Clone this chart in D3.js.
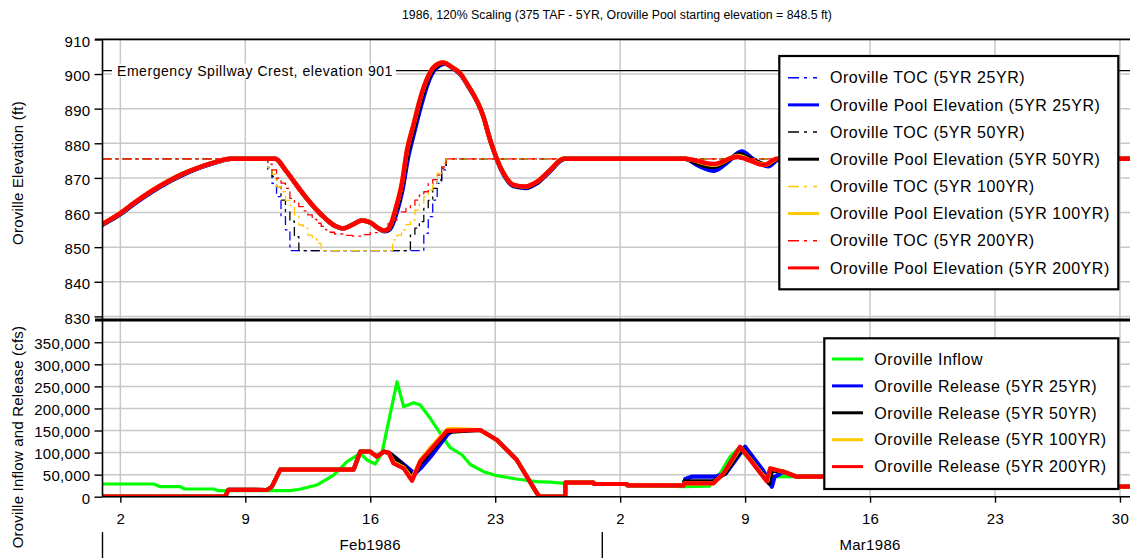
<!DOCTYPE html>
<html><head><meta charset="utf-8">
<script src="https://cdn.jsdelivr.net/npm/d3@7"></script>
<style>
body{margin:0;background:#fff;}
svg{display:block;font-family:"Liberation Sans",Arial,sans-serif;}
</style></head><body>
<svg id="chart" width="1130" height="558"></svg>
<script>
// ---------- text ----------
const titleText = "1986, 120% Scaling (375 TAF - 5YR, Oroville Pool starting elevation = 848.5 ft)";
const elevAxisTitle = "Oroville Elevation (ft)";
const flowAxisTitle = "Oroville Inflow and Release (cfs)";
const spillwayLabel = "Emergency Spillway Crest, elevation 901";
const spillwayElev = 901;
const elevTicks = [830, 840, 850, 860, 870, 880, 890, 900, 910];
const flowTicks = [0, 50000, 100000, 150000, 200000, 250000, 300000, 350000];
const monthNames = ["Feb1986", "Mar1986"];
const monthStarts = ["1986-02-01", "1986-03-01"];
const monthMids = ["1986-02-16", "1986-03-16"];

// ---------- data: [days since 1 Feb 1986, value] ----------
const toc25 = [[0,875.5],[9.25,872.3],[9.5,868.4],[9.75,864.6],[10.0,858.8],[10.25,855.0],[10.5,849.0],[18.0,854.0],[18.25,858.8],[18.5,863.6],[18.75,868.4],[19.0,872.3],[19.25,875.5],[57.6,875.5]];
const toc50 = [[0,875.5],[9.25,873.0],[9.5,870.4],[9.75,867.5],[10.0,863.6],[10.25,860.2],[10.5,857.5],[10.75,853.0],[11.0,849.0],[17.25,853.5],[17.5,855.5],[17.75,857.4],[18.0,861.2],[18.25,863.5],[18.5,867.0],[18.75,869.4],[19.0,872.8],[19.25,875.5],[57.6,875.5]];
const toc100 = [[0,875.5],[9.25,873.0],[9.5,871.0],[9.75,867.5],[10.0,866.0],[10.25,863.5],[10.5,862.0],[10.75,859.3],[11.0,856.4],[11.25,855.5],[11.5,853.5],[11.75,852.5],[12.0,851.1],[12.25,849.0],[16.25,852.1],[16.5,853.5],[16.75,855.0],[17.0,856.5],[17.25,857.8],[17.5,860.7],[17.75,862.5],[18.0,864.6],[18.25,866.5],[18.5,868.0],[18.75,871.3],[19.0,874.2],[19.25,875.5],[57.6,875.5]];
const toc200 = [[0,875.5],[9.25,874.0],[9.5,872.3],[9.75,869.9],[10.0,868.5],[10.25,867.0],[10.5,864.1],[10.75,863.0],[11.0,861.7],[11.25,860.5],[11.5,859.3],[11.75,858.0],[12.0,856.9],[12.25,856.0],[12.5,855.0],[12.75,854.3],[13.0,853.8],[13.5,853.4],[14.0,853.2],[14.5,853.6],[15.0,854.2],[15.5,855.0],[16.0,856.9],[16.25,857.8],[16.5,859.8],[16.75,860.2],[17.0,861.2],[17.25,862.0],[17.5,863.6],[17.75,865.0],[18.0,866.0],[18.25,868.4],[18.5,869.5],[18.75,870.8],[19.0,873.2],[19.25,875.5],[57.6,875.5]];

const pool25 = [[0,856.5],[1.0,859.5],[1.75,862.4],[2.68,865.7],[3.62,868.6],[4.55,871.0],[5.48,873.0],[6.42,874.6],[7.2,875.5],[9.68,875.5],[10.24,872.3],[10.8,868.4],[11.36,864.6],[11.92,861.2],[12.48,858.3],[13.04,856.1],[13.5,855.4],[13.97,856.4],[14.53,857.7],[15.0,857.1],[15.47,855.4],[15.8,854.6],[16.1,855.2],[16.45,859.5],[16.8,866.5],[17.1,875.5],[17.45,883.0],[17.85,891.0],[18.2,897.0],[18.6,901.2],[19.2,903.0],[19.6,901.8],[20.1,899.6],[20.45,896.8],[21.34,887.7],[21.72,880.9],[22.47,871.0],[23.03,867.6],[23.69,867.1],[24.34,868.5],[25.08,872.0],[25.9,875.5],[32.64,875.5],[33.4,873.5],[34.26,872.1],[35.0,874.5],[35.81,877.6],[36.47,875.3],[37.3,873.4],[37.87,875.3],[57.6,875.5]];
const pool50 = [[0,856.6],[1.0,859.7],[1.75,862.6],[2.68,865.9],[3.62,868.8],[4.55,871.2],[5.48,873.1],[6.42,874.7],[7.18,875.5],[9.68,875.5],[10.24,872.3],[10.8,868.4],[11.36,864.6],[11.92,861.2],[12.48,858.3],[13.04,856.1],[13.5,855.4],[13.97,856.4],[14.53,857.7],[15.0,857.1],[15.47,855.4],[15.77,854.7],[16.06,855.3],[16.42,860.2],[16.78,867.6],[17.08,877.0],[17.44,884.5],[17.82,892.2],[18.18,897.8],[18.57,901.6],[19.15,903.2],[19.55,902.0],[20.07,899.9],[20.43,897.0],[21.34,887.7],[21.72,880.9],[22.47,871.2],[23.03,867.8],[23.69,867.3],[24.34,868.7],[25.08,872.2],[25.86,875.5],[32.64,875.5],[33.4,874.0],[34.25,873.2],[35.0,875.0],[35.7,876.8],[36.4,875.2],[37.2,873.8],[37.82,875.4],[57.6,875.5]];
const pool100 = [[0,856.7],[1.0,859.8],[1.75,862.7],[2.68,866.0],[3.62,868.9],[4.55,871.3],[5.48,873.2],[6.42,874.7],[7.16,875.5],[9.68,875.5],[10.24,872.3],[10.8,868.4],[11.36,864.6],[11.92,861.2],[12.48,858.3],[13.04,856.1],[13.5,855.4],[13.97,856.4],[14.53,857.7],[15.0,857.1],[15.47,855.4],[15.75,854.8],[16.03,855.4],[16.4,860.7],[16.77,868.4],[17.06,878.0],[17.43,885.5],[17.8,893.0],[18.17,898.5],[18.55,902.0],[19.1,903.3],[19.5,902.2],[20.04,900.2],[20.41,897.3],[21.34,887.7],[21.72,880.9],[22.47,871.3],[23.03,868.0],[23.69,867.5],[24.34,868.9],[25.08,872.3],[25.83,875.5],[32.64,875.5],[34.23,873.8],[35.6,876.3],[36.3,875.0],[37.1,873.8],[37.8,875.5],[57.6,875.5]];
const pool200 = [[0,856.7],[1.0,859.8],[1.75,862.7],[2.68,866.0],[3.62,868.9],[4.55,871.3],[5.48,873.2],[6.42,874.7],[7.16,875.5],[9.68,875.5],[10.24,872.3],[10.8,868.4],[11.36,864.6],[11.92,861.2],[12.48,858.3],[13.04,856.1],[13.5,855.4],[13.97,856.4],[14.53,857.7],[15.0,857.1],[15.47,855.4],[15.75,854.8],[16.03,855.4],[16.4,860.7],[16.77,868.4],[17.06,878.0],[17.43,885.5],[17.8,893.0],[18.17,898.5],[18.55,902.0],[19.1,903.3],[19.5,902.2],[20.04,900.2],[20.41,897.3],[21.34,887.7],[21.72,880.9],[22.47,871.3],[23.03,868.0],[23.69,867.5],[24.34,868.9],[25.08,872.3],[25.83,875.5],[32.64,875.5],[34.23,874.0],[35.53,876.1],[36.28,875.0],[37.03,873.7],[37.78,875.5],[57.6,875.5]];

const inflow = [[0,28800],[2.86,28800],[3.24,22700],[4.36,22700],[4.6,17500],[6.23,17500],[6.5,13600],[10.5,13600],[11.06,16800],[12.0,26500],[12.95,49000],[13.7,79300],[14.44,98300],[14.82,83200],[15.28,74100],[15.65,98300],[16.5,260600],[16.87,204000],[17.43,213000],[17.8,207800],[18.36,177700],[18.92,143700],[19.48,111000],[20.15,94500],[20.6,73000],[21.35,56700],[22.1,47600],[23.2,40100],[24.3,34000],[25.08,33000],[25.83,30400],[27.5,30000],[29.4,27500],[32.5,22700],[34.0,24000],[34.6,53000],[35.16,90700],[35.63,109700],[36.2,87000],[36.7,60500],[37.2,40000],[37.8,46000],[40.4,45300],[45.0,32000],[56.9,22700],[57.6,22700]];
const rel25 = [[0,0],[6.88,0],[7.05,15500],[9.21,15200],[9.49,22700],[9.96,61500],[14.07,61500],[14.44,102000],[15.0,102000],[15.37,90700],[15.75,102000],[16.03,100000],[16.35,90000],[16.9,72000],[17.5,52000],[17.85,66000],[18.4,92000],[19.35,142000],[19.7,151200],[21.16,151200],[22.1,128500],[23.21,83200],[24.34,7700],[24.5,0],[25.92,0],[25.93,31700],[27.5,31700],[27.55,28800],[29.37,28800],[29.4,25800],[32.55,25800],[32.65,40000],[33.0,45300],[34.3,45300],[34.9,52000],[36.0,113300],[37.0,60000],[37.5,22700],[37.65,45000],[38.15,56700],[38.9,45300],[40.38,45300],[45.0,30000],[56.9,22700],[57.6,22700]];
const rel50 = [[0,0],[6.88,0],[7.05,15500],[9.21,15200],[9.49,22700],[9.96,61500],[14.07,61500],[14.44,102000],[15.0,102000],[15.37,90700],[15.75,102000],[16.03,100000],[16.3,91000],[16.87,70000],[17.4,45000],[17.8,75000],[18.36,102000],[19.3,147000],[21.16,151200],[22.1,128500],[23.21,83200],[24.34,7700],[24.5,0],[25.92,0],[25.93,31700],[27.5,31700],[27.55,28800],[29.37,28800],[29.4,25800],[32.55,25800],[32.6,35000],[34.25,35000],[34.85,52000],[35.85,110000],[37.35,30000],[37.5,60000],[38.15,56700],[38.9,45300],[40.38,45300],[45.0,30000],[56.9,22700],[57.6,22700]];
const rel100 = [[0,0],[6.88,0],[7.05,15500],[9.21,15200],[9.49,22700],[9.96,61500],[14.07,61500],[14.44,102000],[15.0,102000],[15.37,90700],[15.75,102000],[16.03,100000],[16.3,78000],[16.87,66000],[17.34,40000],[17.8,82000],[18.36,110000],[19.3,152000],[19.5,154000],[21.16,151200],[22.1,128500],[23.21,83200],[24.34,7700],[24.5,0],[25.92,0],[25.93,31700],[27.5,31700],[27.55,28800],[29.37,28800],[29.4,25800],[32.55,25800],[32.6,30400],[34.23,30400],[34.79,53000],[35.75,112000],[37.25,36000],[37.4,64300],[38.15,56700],[38.9,45300],[40.38,45300],[45.0,30000],[56.9,22700],[57.6,22700]];
const rel200 = [[0,0],[6.88,0],[7.05,15500],[9.21,15200],[9.49,22700],[9.96,61500],[14.07,61500],[14.44,102000],[15.0,102000],[15.37,90700],[15.75,102000],[16.03,100000],[16.3,75700],[16.87,64300],[17.34,36000],[17.8,80000],[18.36,105800],[19.3,149000],[21.16,151200],[22.1,128500],[23.21,83200],[24.34,7700],[24.5,0],[25.92,0],[25.93,31700],[27.5,31700],[27.55,28800],[29.37,28800],[29.4,25800],[32.55,25800],[32.6,30400],[34.23,30400],[34.79,53000],[35.72,113300],[37.21,35000],[37.4,64300],[38.15,56700],[38.9,45300],[40.38,45300],[45.0,30000],[56.9,22700],[57.6,22700]];

// ---------- legends ----------
const elevSeries = [
  {name:"Oroville TOC (5YR 25YR)", data:toc25, color:"#0000ff", toc:true},
  {name:"Oroville Pool Elevation (5YR 25YR)", data:pool25, color:"#0000ff", toc:false},
  {name:"Oroville TOC (5YR 50YR)", data:toc50, color:"#000000", toc:true},
  {name:"Oroville Pool Elevation (5YR 50YR)", data:pool50, color:"#000000", toc:false},
  {name:"Oroville TOC (5YR 100YR)", data:toc100, color:"#ffc800", toc:true},
  {name:"Oroville Pool Elevation (5YR 100YR)", data:pool100, color:"#ffc800", toc:false},
  {name:"Oroville TOC (5YR 200YR)", data:toc200, color:"#ff0000", toc:true},
  {name:"Oroville Pool Elevation (5YR 200YR)", data:pool200, color:"#ff0000", toc:false}
];
const flowSeries = [
  {name:"Oroville Inflow", data:inflow, color:"#00ff00", inflow:true},
  {name:"Oroville Release (5YR 25YR)", data:rel25, color:"#0000ff"},
  {name:"Oroville Release (5YR 50YR)", data:rel50, color:"#000000"},
  {name:"Oroville Release (5YR 100YR)", data:rel100, color:"#ffc800"},
  {name:"Oroville Release (5YR 200YR)", data:rel200, color:"#ff0000"}
];

// ---------- layout ----------
const W = 1130, H = 558;
const L = 102.5, R = 1130;
const topY0 = 39.4, sepY = 320, botY = 496.7;
const t0 = Date.UTC(1986, 1, 1);
const toDate = d => new Date(t0 + d * 864e5);
const parse = d3.utcParse("%Y-%m-%d");

const svg = d3.select("#chart");
const x = d3.scaleUtc().domain([new Date(t0), new Date(Date.UTC(1986, 2, 30, 13, 30))]).range([L, R]);
const yE = d3.scaleLinear().domain([830, 910]).range([316.4, topY0]);
const yF = d3.scaleLinear().domain([0, 400000]).range([botY, 320.2]);
const weekTicks = x.ticks(d3.utcSunday.every(1));

svg.append("rect").attr("width", W).attr("height", H).attr("fill", "#fff");

// clip paths
const defs = svg.append("defs");
defs.append("clipPath").attr("id", "clipTop").append("rect")
  .attr("x", L).attr("y", topY0).attr("width", R - L).attr("height", sepY - topY0);
defs.append("clipPath").attr("id", "clipBot").append("rect")
  .attr("x", L).attr("y", sepY).attr("width", R - L).attr("height", botY - sepY);

// grid
const grid = svg.append("g").attr("stroke", "#c8c8c8").attr("stroke-width", 1.5);
grid.selectAll("line.v").data(weekTicks).join("line")
  .attr("x1", d => x(d)).attr("x2", d => x(d)).attr("y1", topY0).attr("y2", botY);
grid.selectAll("line.he").data(elevTicks).join("line")
  .attr("x1", L).attr("x2", R).attr("y1", d => yE(d)).attr("y2", d => yE(d));
grid.selectAll("line.hf").data(flowTicks).join("line")
  .attr("x1", L).attr("x2", R).attr("y1", d => yF(d)).attr("y2", d => yF(d));

// spillway line
svg.append("line").attr("x1", L).attr("x2", R)
  .attr("y1", yE(spillwayElev)).attr("y2", yE(spillwayElev))
  .attr("stroke", "#000").attr("stroke-width", 1.2);
const spLabel = svg.append("text").attr("x", 117).attr("y", yE(spillwayElev))
  .attr("dy", "0.36em").attr("font-size", 14).attr("letter-spacing", 0.55)
  .attr("fill", "#000").text(spillwayLabel);
const bb = spLabel.node().getBBox();
svg.insert("rect", "text").attr("x", bb.x - 5).attr("y", bb.y + 1).attr("width", bb.width + 8).attr("height", bb.height - 2).attr("fill", "#fff");

// series
const lineE = (curve) => d3.line().x(d => x(toDate(d[0]))).y(d => yE(d[1])).curve(curve);
const lineF = d3.line().x(d => x(toDate(d[0]))).y(d => yF(d[1]));
const gTop = svg.append("g").attr("clip-path", "url(#clipTop)");
elevSeries.forEach(s => {
  gTop.append("path").datum(s.data)
    .attr("fill", "none").attr("stroke", s.color)
    .attr("stroke-width", s.toc ? 1.3 : 4.5)
    .attr("stroke-dasharray", s.toc ? "9,4,3,4" : null)
    .attr("stroke-linejoin", "round").attr("stroke-linecap", s.toc ? "butt" : "round")
    .attr("d", lineE(s.toc ? d3.curveStepAfter : d3.curveMonotoneX));
});
const gBot = svg.append("g").attr("clip-path", "url(#clipBot)");
flowSeries.forEach(s => {
  gBot.append("path").datum(s.data)
    .attr("fill", "none").attr("stroke", s.color)
    .attr("stroke-width", s.inflow ? 3.2 : 4.2)
    .attr("stroke-linejoin", "round").attr("stroke-linecap", "round")
    .attr("d", lineF);
});

// axes frame
const frame = svg.append("g").attr("stroke", "#000");
frame.append("line").attr("x1", 95).attr("x2", R).attr("y1", topY0).attr("y2", topY0).attr("stroke-width", 1.6);
frame.append("line").attr("x1", 95).attr("x2", R).attr("y1", sepY).attr("y2", sepY).attr("stroke-width", 3.2);
frame.append("line").attr("x1", L).attr("x2", L).attr("y1", topY0).attr("y2", botY).attr("stroke-width", 1.6);
frame.append("line").attr("x1", L).attr("x2", R).attr("y1", botY).attr("y2", botY).attr("stroke-width", 1.6);

const styleAxis = g => {
  g.select(".domain").remove();
  g.selectAll(".tick line").attr("stroke", "#000").attr("stroke-width", 1.4);
  g.selectAll(".tick text").attr("fill", "#000")
    .attr("font-family", '"Liberation Sans",Arial,sans-serif')
    .attr("font-size", 15).attr("letter-spacing", 0.3);
};
svg.append("g").attr("transform", `translate(${L},0)`)
  .call(d3.axisLeft(yE).tickValues(elevTicks).tickSize(8).tickPadding(4).tickFormat(d3.format("d")))
  .call(styleAxis)
  .call(g => g.selectAll(".tick text").attr("dy", "0.45em"));
svg.append("g").attr("transform", `translate(${L},0)`)
  .call(d3.axisLeft(yF).tickValues(flowTicks).tickSize(8).tickPadding(4).tickFormat(d3.format(",")))
  .call(styleAxis)
  .call(g => g.selectAll(".tick text").attr("dy", "0.42em"));
svg.append("g").attr("transform", `translate(0,${botY})`)
  .call(d3.axisBottom(x).tickValues(weekTicks).tickSize(6).tickFormat(d3.utcFormat("%-d")))
  .call(styleAxis)
  .call(g => g.selectAll(".tick text").attr("y", 27.5).attr("dy", 0));

// month labels + dividers
svg.append("g").selectAll("line").data(monthStarts).join("line")
  .attr("x1", d => x(parse(d))).attr("x2", d => x(parse(d)))
  .attr("y1", 532).attr("y2", 558).attr("stroke", "#000").attr("stroke-width", 1.4);
svg.append("g").selectAll("text").data(monthNames).join("text")
  .attr("x", (d, i) => x(parse(monthMids[i]))).attr("y", 550)
  .attr("text-anchor", "middle").attr("font-size", 15).attr("letter-spacing", 0.3)
  .text(d => d);

// title & axis titles
svg.append("text").attr("x", 402).attr("y", 19).attr("font-size", 12.3)
  .attr("fill", "#000").text(titleText);
svg.append("text").attr("transform", "translate(23,173) rotate(-90)")
  .attr("text-anchor", "middle").attr("font-size", 15).attr("letter-spacing", 0.2).text(elevAxisTitle);
svg.append("text").attr("transform", "translate(23,437) rotate(-90)")
  .attr("text-anchor", "middle").attr("font-size", 15).attr("letter-spacing", 0.2).text(flowAxisTitle);

// legend 1
function drawLegend(series, box, sx1, sx2, tx, y0, dy) {
  const g = svg.append("g");
  g.append("rect").attr("x", box[0]).attr("y", box[1]).attr("width", box[2]).attr("height", box[3])
    .attr("fill", "#fff").attr("stroke", "#000").attr("stroke-width", 2.2);
  series.forEach((s, i) => {
    const yy = y0 + i * dy;
    g.append("line").attr("x1", sx1).attr("x2", sx2).attr("y1", yy).attr("y2", yy)
      .attr("stroke", s.color).attr("stroke-width", s.toc ? 1.5 : 3)
      .attr("stroke-dasharray", s.toc ? "11,5,3,6,4" : null);
    g.append("text").attr("x", tx).attr("y", yy).attr("dy", "0.36em")
      .attr("font-size", 16).attr("letter-spacing", 0.55).attr("fill", "#000").text(s.name);
  });
}
drawLegend(elevSeries, [779.3, 56, 339, 233.3], 788, 819, 830, 77.7, 27.17);
drawLegend(flowSeries, [824.3, 338.3, 294, 150.7], 832, 863, 874.3, 359, 26.9);
</script>
</body></html>
